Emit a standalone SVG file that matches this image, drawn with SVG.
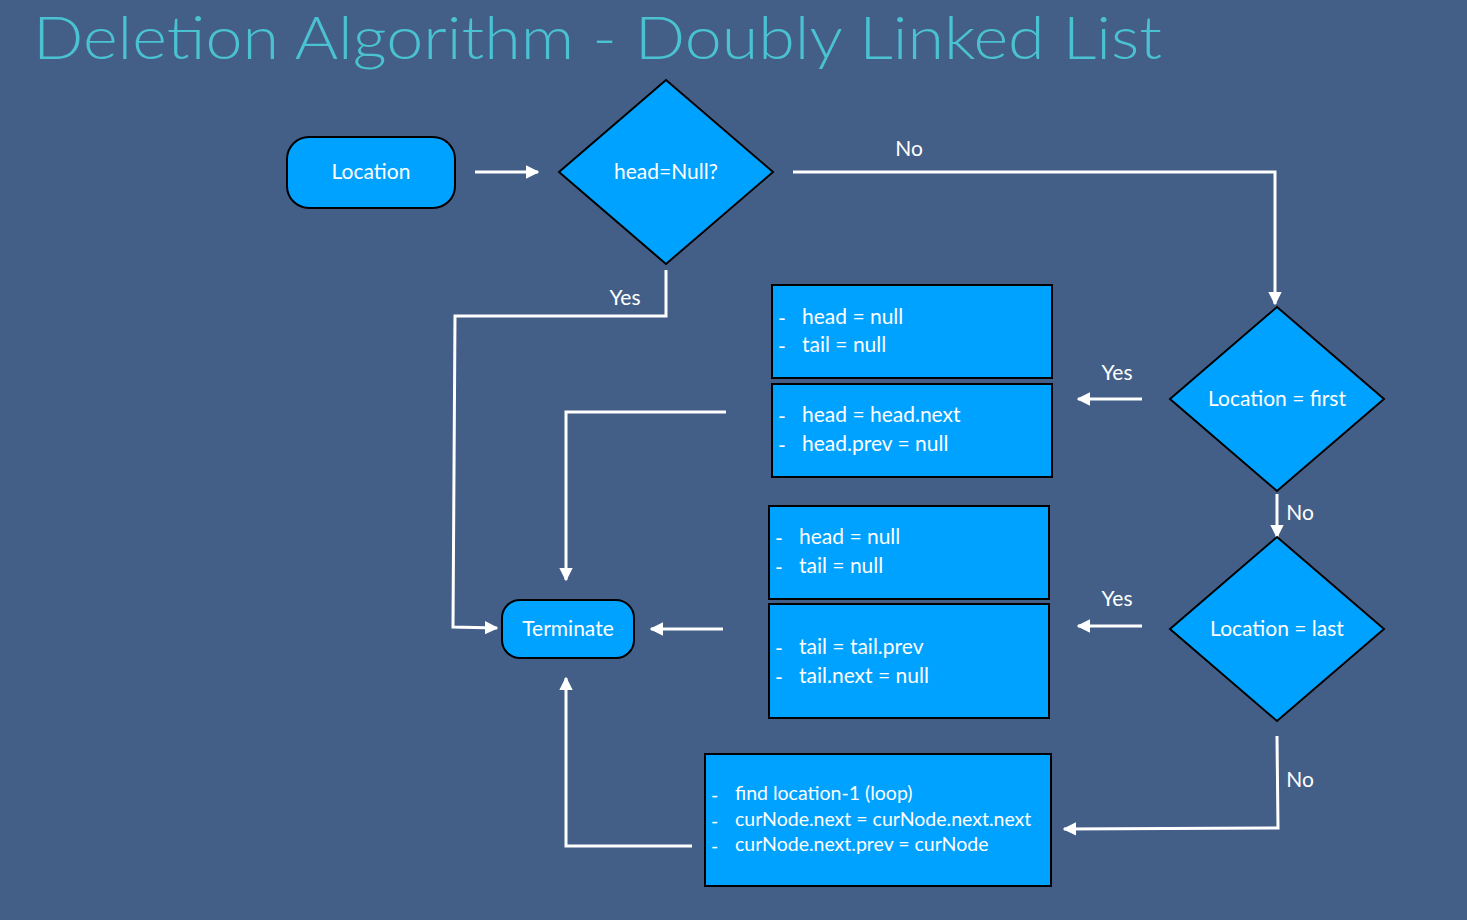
<svg xmlns="http://www.w3.org/2000/svg" width="1467" height="920" viewBox="0 0 1467 920">
<defs>
<marker id="ah" viewBox="0 0 10 10" refX="9" refY="5" markerWidth="4.5" markerHeight="4.5" orient="auto" markerUnits="strokeWidth">
<path d="M0,0 L10,5 L0,10 z" fill="#ffffff"/>
</marker>
<style>
.bg{fill:#435f87}
.node{fill:#00a2ff;stroke:#000;stroke-width:2}
.t{font-family:Lato,"Open Sans","Noto Sans",sans-serif;fill:#ffffff;font-size:21px}
.s{font-size:19.5px}
.c{text-anchor:middle}
.ln{fill:none;stroke:#ffffff;stroke-width:3}
.lbl{font-family:Lato,"Open Sans","Noto Sans",sans-serif;fill:#ffffff;font-size:21px;text-anchor:middle}
</style>
</defs>
<rect class="bg" x="0" y="0" width="1467" height="920"/>
<text x="33" y="59" style="font-family:Lato,'Open Sans',sans-serif;font-weight:300;font-size:60px;fill:#4ac2d2" textLength="1129" lengthAdjust="spacingAndGlyphs">Deletion Algorithm - Doubly Linked List</text>

<g id="connectors">
<path class="ln" d="M475,172 L538,172" marker-end="url(#ah)"/>
<path class="ln" d="M793,172 L1275,172 L1275,304" marker-end="url(#ah)"/>
<path class="ln" d="M666,270 L666,316 L455,316 L453,627 L497,628" marker-end="url(#ah)"/>
<path class="ln" d="M1142,399 L1078,399" marker-end="url(#ah)"/>
<path class="ln" d="M1277,494 L1277,537" marker-end="url(#ah)"/>
<path class="ln" d="M1142,626 L1078,626" marker-end="url(#ah)"/>
<path class="ln" d="M1277,736 L1278,828 L1064,829" marker-end="url(#ah)"/>
<path class="ln" d="M726,412 L566,412 L566,580" marker-end="url(#ah)"/>
<path class="ln" d="M723,629 L651,629" marker-end="url(#ah)"/>
<path class="ln" d="M692,846 L566,846 L566,678" marker-end="url(#ah)"/>
<text class="lbl" x="909" y="156">No</text>
<text class="lbl" x="625" y="305">Yes</text>
<text class="lbl" x="1117" y="380">Yes</text>
<text class="lbl" x="1300" y="520">No</text>
<text class="lbl" x="1117" y="606">Yes</text>
<text class="lbl" x="1300" y="787">No</text>
</g>

<g id="location">
<rect class="node" x="287" y="137" width="168" height="71" rx="22"/>
<text class="t c" x="371" y="179">Location</text>
</g>
<g id="headNull">
<polygon class="node" points="666,80 773,172 666,264 559,172"/>
<text class="t c" x="666" y="179">head=Null?</text>
</g>
<g id="locFirst">
<polygon class="node" points="1277,307 1384,399 1277,491 1170,399"/>
<text class="t c" x="1277" y="406">Location = first</text>
</g>
<g id="locLast">
<polygon class="node" points="1277,537 1384,629 1277,721 1170,629"/>
<text class="t c" x="1277" y="636">Location = last</text>
</g>
<g id="terminate">
<rect class="node" x="502" y="600" width="132" height="58" rx="18"/>
<text class="t c" x="568" y="636">Terminate</text>
</g>
<g id="box1">
<rect class="node" x="772" y="285" width="280" height="93"/>
<text class="t" x="778" y="326">-</text><text class="t" x="802" y="324">head = null</text>
<text class="t" x="778" y="354">-</text><text class="t" x="802" y="352">tail = null</text>
</g>
<g id="box2">
<rect class="node" x="772" y="384" width="280" height="93"/>
<text class="t" x="778" y="424">-</text><text class="t" x="802" y="422">head = head.next</text>
<text class="t" x="778" y="453">-</text><text class="t" x="802" y="451">head.prev = null</text>
</g>
<g id="box3">
<rect class="node" x="769" y="506" width="280" height="93"/>
<text class="t" x="775" y="546">-</text><text class="t" x="799" y="544">head = null</text>
<text class="t" x="775" y="575">-</text><text class="t" x="799" y="573">tail = null</text>
</g>
<g id="box4">
<rect class="node" x="769" y="604" width="280" height="114"/>
<text class="t" x="775" y="656">-</text><text class="t" x="799" y="654">tail = tail.prev</text>
<text class="t" x="775" y="685">-</text><text class="t" x="799" y="683">tail.next = null</text>
</g>
<g id="box5">
<rect class="node" x="705" y="754" width="346" height="132"/>
<text class="t s" x="711" y="802">-</text><text class="t s" x="735" y="800">find location-1 (loop)</text>
<text class="t s" x="711" y="828">-</text><text class="t s" x="735" y="826">curNode.next = curNode.next.next</text>
<text class="t s" x="711" y="853">-</text><text class="t s" x="735" y="851">curNode.next.prev = curNode</text>
</g>
</svg>
